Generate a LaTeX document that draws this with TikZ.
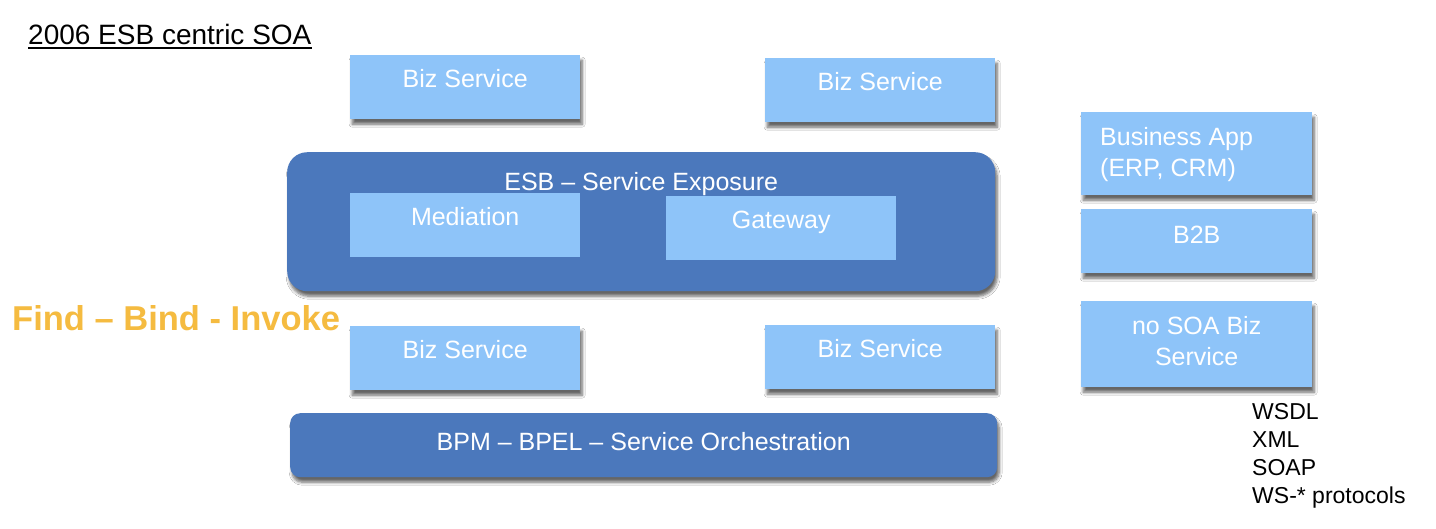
\documentclass[tikz,border=0pt]{standalone}
\usepackage{fontspec}
\setmainfont{Liberation Sans}
\usepackage{tikz}
\usetikzlibrary{shadows.blur}
\definecolor{BoxLight}{HTML}{8EC4F9}
\definecolor{BoxDark}{HTML}{4B78BC}
\definecolor{FindOrange}{HTML}{F5BB40}

\begin{document}
\begin{tikzpicture}[x=1pt, y=-1pt,
    boxshadow/.style={blur shadow={shadow xshift=2pt, shadow yshift=-5pt,
        shadow blur steps=6, shadow blur radius=3pt, shadow opacity=60}},
    svc/.style={fill=BoxLight, inner sep=0pt, anchor=north west,
        minimum width=230pt, minimum height=64pt},
    bus/.style={fill=BoxDark, inner sep=0pt, anchor=north west, boxshadow},
    svctext/.style={text=white, inner sep=0pt,
        font=\fontsize{25}{31}\selectfont},
    listtext/.style={inner sep=0pt, anchor=north west, align=left,
        font=\fontsize{23}{28}\selectfont}]
    \useasboundingbox[fill=white] (0,0) rectangle (1436,528);
    % Title
    \node[inner sep=0pt, anchor=base west, font=\fontsize{28}{32}\selectfont]
    (title) at (28,44) {2006 ESB centric SOA};
    \draw[line width=2pt] ([yshift=-4pt]title.base west) --
    ([yshift=-4pt]title.base east);
    % top services
    \node[svc, boxshadow] (bizA) at (350,55) {};
    \node[svctext, anchor=base] (bizAtxt) at ([yshift=-32pt]bizA.north)
    {Biz Service};
    \node[svc, boxshadow] (bizB) at (765,58) {};
    \node[svctext, anchor=base] (bizBtxt) at ([yshift=-32pt]bizB.north)
    {Biz Service};
    % ESB
    \node[bus, rounded corners=20pt, minimum width=708pt,
    minimum height=139pt] (esb) at (287,152) {};
    \node[svctext, anchor=base] (esbtxt) at ([yshift=-38pt]esb.north)
    {ESB – Service Exposure};
    \node[svc] (med) at (350,193) {};
    \node[svctext, anchor=base] (medtxt) at ([yshift=-32pt]med.north)
    {Mediation};
    \node[svc] (gate) at (666,196) {};
    \node[svctext, anchor=base] (gatetxt) at ([yshift=-32pt]gate.north)
    {Gateway};
    % Find Bind Invoke
    \node[inner sep=0pt, anchor=base west, text=FindOrange,
    font=\fontsize{34.5}{40}\selectfont\bfseries] (find) at (12,330)
    {Find – Bind - Invoke};
    % bottom services
    \node[svc, boxshadow] (bizC) at (350,326) {};
    \node[svctext, anchor=base] (bizCtxt) at ([yshift=-32pt]bizC.north)
    {Biz Service};
    \node[svc, boxshadow] (bizD) at (765,325) {};
    \node[svctext, anchor=base] (bizDtxt) at ([yshift=-32pt]bizD.north)
    {Biz Service};
    % BPM
    \node[bus, rounded corners=10pt, minimum width=707pt,
    minimum height=64pt] (bpm) at (290,413) {};
    \node[svctext, anchor=base] (bpmtxt) at ([yshift=-37pt]bpm.north)
    {BPM – BPEL – Service Orchestration};
    % right column
    \node[svc, boxshadow, minimum width=231pt, minimum height=83pt]
    (app) at (1081,112) {};
    \node[svctext, anchor=north west, align=left] (apptxt) at (1100,127)
    {Business App\\(ERP, CRM)};
    \node[svc, boxshadow, minimum width=231pt] (btob) at (1081,209) {};
    \node[svctext, anchor=base] (btobtxt) at ([yshift=-34pt]btob.north)
    {B2B};
    \node[svc, boxshadow, minimum width=231pt, minimum height=86pt]
    (nosoa) at (1081,301) {};
    \node[svctext, anchor=north, align=center] (nosoatxt)
    at ([yshift=-15pt]nosoa.north) {no SOA Biz\\Service};
    % standards
    \node[listtext] (std) at (1252,403.5)
    {WSDL\\XML\\SOAP\\WS-* protocols};
\end{tikzpicture}
\end{document}
